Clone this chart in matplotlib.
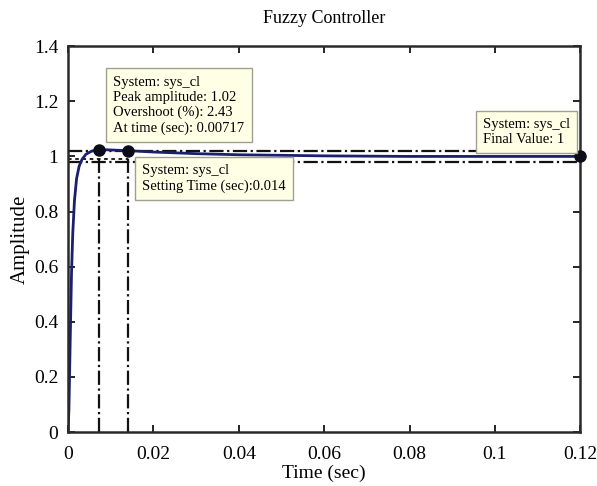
import numpy as np
import matplotlib
matplotlib.use("Agg")
import matplotlib.pyplot as plt

plt.rcParams['font.family'] = ['Liberation Serif', 'DejaVu Serif']

# step response
t = [0, 0.0002, 0.0005, 0.0008, 0.0011, 0.0015, 0.002, 0.0026, 0.0033, 0.0042,
     0.0055, 0.00717, 0.009, 0.014, 0.02, 0.03, 0.04, 0.06, 0.08, 0.1, 0.12]
amp = [0, 0.08, 0.33, 0.57, 0.72, 0.84, 0.92, 0.965, 0.99, 1.008,
       1.019, 1.0243, 1.024, 1.021, 1.016, 1.01, 1.006, 1.002, 1.0, 1.0, 1.0]

peak_t, peak_amp = 0.00717, 1.0243
settle_t, settle_amp = 0.014, 1.02
final_t, final_amp = 0.12, 1.0
band_hi, band_lo = 1.02, 0.98

xticks = [0, 0.02, 0.04, 0.06, 0.08, 0.1, 0.12]
xtick_labels = ['0', '0.02', '0.04', '0.06', '0.08', '0.1', '0.12']
yticks = [0, 0.2, 0.4, 0.6, 0.8, 1, 1.2, 1.4]
ytick_labels = ['0', '0.2', '0.4', '0.6', '0.8', '1', '1.2', '1.4']

fig = plt.figure(figsize=(5.97, 4.86), dpi=100)
ax = fig.add_axes([0.114, 0.111, 0.858, 0.794])

k = '#111111'
ax.plot([0, 0.12], [band_hi, band_hi], color=k, lw=1.6, ls='-.')
ax.plot([0, 0.12], [band_lo, band_lo], color=k, lw=1.6, ls='-.')
ax.plot([0, settle_t], [0.99, 0.99], color=k, lw=1.3, ls=(0, (2, 2)))
ax.plot([peak_t, peak_t], [0, peak_amp], color=k, lw=1.6, ls='-.')
ax.plot([settle_t, settle_t], [0, settle_amp], color=k, lw=1.6, ls='-.')

ax.plot(t, amp, color='#1a1f6e', lw=2)

ax.plot([peak_t, settle_t, final_t], [peak_amp, settle_amp, final_amp], 'o',
        color='#0d0d1a', ms=8, clip_on=False, zorder=5)

box = dict(boxstyle='square,pad=0.5', fc='#ffffe6', ec='#a0a090', lw=1)
ax.annotate('System: sys_cl\nPeak amplitude: 1.02\nOvershoot (%): 2.43\nAt time (sec): 0.00717',
            xy=(0.0106, 1.186), fontsize=10.5, va='center', ha='left',
            bbox=box, annotation_clip=False, linespacing=1.2)
ax.annotate('System: sys_cl\nSetting Time (sec):0.014',
            xy=(0.0173, 0.919), fontsize=10.5, va='center', ha='left',
            bbox=box, annotation_clip=False, linespacing=1.2)
ax.annotate('System: sys_cl\nFinal Value: 1',
            xy=(0.0972, 1.088), fontsize=10.5, va='center', ha='left',
            bbox=dict(boxstyle='square,pad=0.5', fc='#ffffe6', ec='#a0a090', lw=1),
            annotation_clip=False, linespacing=1.2, zorder=6)

ax.set_xlim(0, 0.12)
ax.set_ylim(0, 1.4)
ax.set_xticks(xticks)
ax.set_xticklabels(xtick_labels)
ax.set_yticks(yticks)
ax.set_yticklabels(ytick_labels)
ax.tick_params(direction='in', top=True, right=True, labelsize=14, length=5, width=1.2)
ax.tick_params(axis='x', pad=10)
ax.tick_params(axis='y', pad=7)
for s in ax.spines.values():
    s.set_linewidth(1.8)
    s.set_color('#2a2a2a')

ax.set_xlabel('Time (sec)', fontsize=14, labelpad=1)
ax.set_ylabel('Amplitude', fontsize=15, labelpad=3)
ax.set_title('Fuzzy Controller', fontsize=13, pad=17)

fig.savefig('out.png', dpi=100)
